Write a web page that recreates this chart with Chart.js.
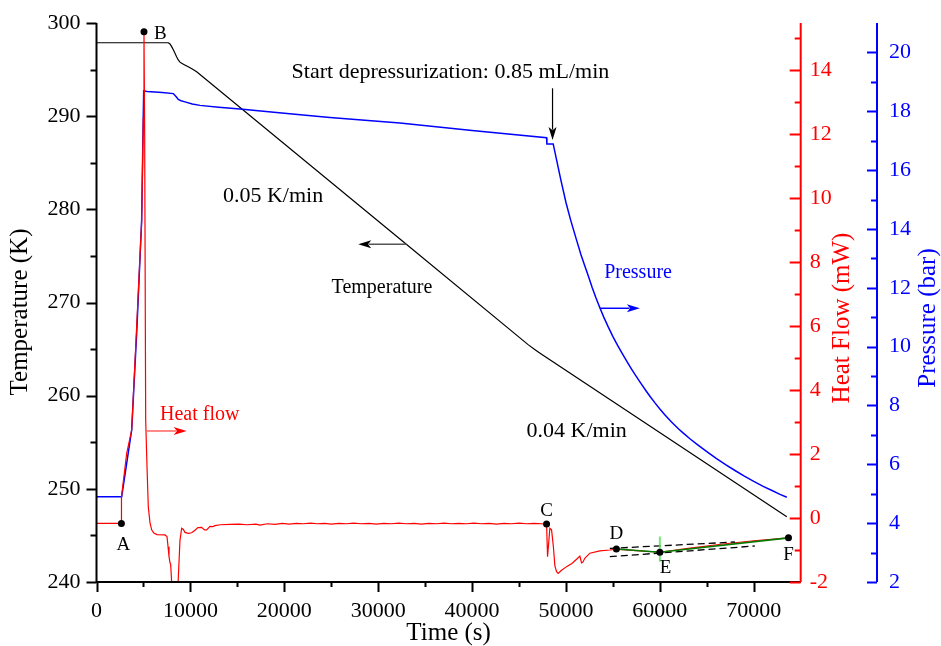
<!DOCTYPE html>
<html>
<head>
<meta charset="utf-8">
<title>Temperature, heat flow and pressure vs time</title>
<script src="https://cdn.jsdelivr.net/npm/chart.js@4.4.1/dist/chart.umd.min.js"></script>
<style>
    html, body { margin: 0; padding: 0; background: #fff; }
    #wrap { width: 941px; height: 646px; }
</style>
</head>
<body>
<div id="wrap"><canvas id="chart" width="941" height="646"></canvas></div>
<script>
(function () {
    'use strict';

    // temperature (K), left axis
    var tempTime = [0, 7645, 7830, 8005, 8180, 8358, 8530, 8710, 8890, 9071, 9400, 9774, 10200, 10668, 33030, 46000, 46600, 47200, 73520];
    var tempVal = [297.88, 297.88, 297.75, 297.46, 297.12, 296.75, 296.38, 296.03, 295.80, 295.67, 295.50, 295.31, 295.07, 294.77, 276.23, 265.45, 265.0, 264.58, 247.0];

    // pressure (bar), outer right axis
    var presTime = [0, 2683, 3748, 4300, 4810, 5025, 5400, 7000, 8177, 8465, 8710, 9000, 9423, 10200, 11020, 13000, 15280, 20000, 24860,
        32310, 40000, 47934, 47970, 48640, 49000, 49460, 50000, 50500, 51130, 51600, 52000, 52400, 52800, 53200, 53610, 54000, 54500, 55000,
        55500, 56000, 56500, 57000, 57500, 58000, 58500, 59000, 59500, 60000, 60500, 61240, 62000, 62500, 63200, 64000, 65000, 66000, 67000,
        68000, 69000, 70000, 71000, 72000, 72800, 73520];
    var presVal = [4.90, 4.90, 7.17, 10.6, 14.3, 18.69, 18.67, 18.64, 18.60, 18.50, 18.40, 18.36, 18.32, 18.25, 18.20, 18.14, 18.08, 17.93, 17.79,
        17.60, 17.35, 17.10, 16.89, 16.89, 16.35, 15.66, 14.9, 14.3, 13.62, 13.12, 12.75, 12.38, 12.0, 11.65, 11.32, 11.02, 10.67, 10.34,
        10.04, 9.76, 9.49, 9.23, 8.98, 8.74, 8.51, 8.29, 8.08, 7.88, 7.69, 7.44, 7.20, 7.06, 6.87, 6.67, 6.43, 6.20, 5.99,
        5.79, 5.60, 5.42, 5.25, 5.10, 4.98, 4.88];

    // heat flow (mW), inner right axis
    var heatTime = [0, 2650, 2660, 3215, 3748, 4280, 4810, 4980, 5058, 5130, 5238, 5380, 5515, 5700, 5877,
        6100, 6442, 7295, 7508, 7620, 7721, 7827, 7900, 8040, 8250, 8466, 8650, 8710, 8890, 9071, 9250,
        9423, 9774, 10136, 10488, 10800, 11201, 11500, 11733, 12085, 12400, 12617, 13200, 14215, 15200,
        16000, 17000, 17400, 18200, 19000, 19800, 20500, 21300, 22000, 22800, 23500, 24300, 25000, 25800,
        26600, 27400, 28200, 29000, 29800, 30600, 31400, 32200, 33000, 33800, 34600, 35400, 36200, 37000,
        37800, 38600, 39400, 40200, 41000, 41800, 42600, 43400, 44200, 45000, 45800, 46600, 47400, 47934,
        48040, 48285, 48466, 48660, 48820, 49000, 49170, 49460, 50063, 50630, 51130, 51480, 51660, 51800,
        52010, 52545, 53610, 54670, 55370, 57500, 60000, 63000, 66500, 70000, 73700];
    var heatVal = [-0.17, -0.17, 0.66, 2.02, 2.75, 6.0, 9.28, 12.5, 15.15, 12.0, 3.06, 1.6, 0.35, -0.15, -0.37,
        -0.47, -0.52, -0.53, -0.58, -0.9, -1.2, -1.4, -1.45, -2.2, -3.0, -3.0, -2.3, -1.9, -0.7, -0.32, -0.36,
        -0.45, -0.48, -0.46, -0.38, -0.3, -0.29, -0.37, -0.37, -0.26, -0.27, -0.24, -0.21, -0.2, -0.19,
        -0.21, -0.19, -0.22, -0.18, -0.2, -0.17, -0.19, -0.17, -0.18, -0.16, -0.18, -0.17, -0.19, -0.17,
        -0.18, -0.16, -0.18, -0.17, -0.19, -0.17, -0.18, -0.16, -0.18, -0.17, -0.19, -0.17, -0.18, -0.16,
        -0.18, -0.17, -0.18, -0.16, -0.18, -0.17, -0.19, -0.17, -0.18, -0.16, -0.18, -0.17, -0.18, -0.19,
        -1.21, -0.32, -0.37, -0.9, -1.5, -1.68, -1.73, -1.65, -1.52, -1.42, -1.29, -1.19, -1.4, -1.38,
        -1.26, -1.1, -1.03, -1.0, -0.97, -1.02, -1.07, -0.95, -0.82, -0.71, -0.62];

    // marked points A-F (on heat flow axis)
    var markNames = ['A', 'B', 'C', 'D', 'E', 'F'];
    var markTime = [2650, 5058, 47934, 55370, 60000, 73700];
    var markVal = [-0.17, 15.2, -0.19, -0.97, -1.07, -0.62];

    // D-E-F baseline construction
    var fitTime = [55370, 60000, 73700];
    var fitVal = [-0.97, -1.07, -0.62];
    var dashUpperTime = [54670, 67990];
    var dashUpperVal = [-0.95, -0.75];
    var dashLowerTime = [54670, 70110];
    var dashLowerVal = [-1.21, -0.875];
    var eMarkTime = [60000, 60000];
    var eMarkVal = [-0.58, -1.37];

    // axis ticks
    var timeTicks = [0, 10000, 20000, 30000, 40000, 50000, 60000, 70000];
    var tempTicks = [240, 250, 260, 270, 280, 290, 300];
    var heatTicks = [-2, 0, 2, 4, 6, 8, 10, 12, 14];
    var presTicks = [2, 4, 6, 8, 10, 12, 14, 16, 18, 20];

    var SERIF = '"Liberation Serif", "Times New Roman", serif';
    var RED = '#ff0000';
    var BLUE = '#0000ff';

    function pts(xs, ys) {
        var out = [];
        for (var i = 0; i < xs.length; i++) {
            out.push({ x: xs[i], y: ys[i] });
        }
        return out;
    }

    function arrow(ctx, x1, y1, x2, y2, shaft, head, width) {
        var ang = Math.atan2(y2 - y1, x2 - x1);
        var len = 13;
        var half = 4;
        ctx.save();
        ctx.strokeStyle = shaft;
        ctx.lineWidth = width;
        ctx.beginPath();
        ctx.moveTo(x1, y1);
        ctx.lineTo(x2 - Math.cos(ang) * len * 0.8, y2 - Math.sin(ang) * len * 0.8);
        ctx.stroke();
        ctx.fillStyle = head;
        ctx.beginPath();
        ctx.moveTo(x2, y2);
        ctx.lineTo(x2 - Math.cos(ang) * len - Math.sin(ang) * half, y2 - Math.sin(ang) * len + Math.cos(ang) * half);
        ctx.lineTo(x2 - Math.cos(ang) * len * 0.75, y2 - Math.sin(ang) * len * 0.75);
        ctx.lineTo(x2 - Math.cos(ang) * len + Math.sin(ang) * half, y2 - Math.sin(ang) * len - Math.cos(ang) * half);
        ctx.closePath();
        ctx.fill();
        ctx.restore();
    }

    function text(ctx, str, x, y, size, color, align) {
        ctx.font = size + 'px ' + SERIF;
        ctx.fillStyle = color;
        ctx.textAlign = align || 'left';
        ctx.textBaseline = 'alphabetic';
        ctx.fillText(str, x, y);
    }

    function vtitle(ctx, str, x, y, size, color) {
        ctx.save();
        ctx.translate(x, y);
        ctx.rotate(-Math.PI / 2);
        ctx.font = size + 'px ' + SERIF;
        ctx.fillStyle = color;
        ctx.textAlign = 'center';
        ctx.textBaseline = 'middle';
        ctx.fillText(str, 0, 0);
        ctx.restore();
    }

    function yTicks(ctx, scale, x, from, to, step, len, color) {
        ctx.strokeStyle = color;
        ctx.lineWidth = 2;
        ctx.beginPath();
        for (var v = from; v <= to + 1e-9; v += step) {
            var y = Math.round(scale.getPixelForValue(v)) + 0.5;
            ctx.moveTo(x, y);
            ctx.lineTo(x - len, y);
        }
        ctx.stroke();
    }

    var overlay = {
        id: 'overlay',
        afterDraw: function (chart) {
            var ctx = chart.ctx;
            var area = chart.chartArea;
            var sx = chart.scales.x;
            var sT = chart.scales.y;
            var sH = chart.scales.yHF;
            var sP = chart.scales.yP;
            var i;

            ctx.save();

            // axis lines
            ctx.lineWidth = 2;
            ctx.strokeStyle = '#000';
            ctx.beginPath();
            ctx.moveTo(area.left, area.top);
            ctx.lineTo(area.left, area.bottom);
            ctx.lineTo(area.right, area.bottom);
            ctx.stroke();
            ctx.strokeStyle = RED;
            ctx.beginPath();
            ctx.moveTo(area.right, area.top);
            ctx.lineTo(area.right, area.bottom);
            ctx.stroke();
            ctx.strokeStyle = BLUE;
            ctx.beginPath();
            ctx.moveTo(sP.left, area.top);
            ctx.lineTo(sP.left, area.bottom);
            ctx.stroke();

            // tick marks
            yTicks(ctx, sT, area.left, 240, 300, 10, 10, '#000');
            yTicks(ctx, sT, area.left, 245, 295, 10, 6, '#000');
            yTicks(ctx, sH, area.right, -2, 14, 2, 11, RED);
            yTicks(ctx, sH, area.right, -1, 15, 2, 6, RED);
            yTicks(ctx, sP, sP.left, 2, 20, 2, 10, BLUE);
            yTicks(ctx, sP, sP.left, 3, 19, 2, 6, BLUE);
            ctx.strokeStyle = '#000';
            ctx.beginPath();
            for (i = 0; i <= 70000; i += 5000) {
                var px = Math.round(sx.getPixelForValue(i)) + 0.5;
                ctx.moveTo(px, area.bottom);
                ctx.lineTo(px, area.bottom + (i % 10000 === 0 ? 10 : 5));
            }
            ctx.stroke();

            // axis titles
            vtitle(ctx, 'Temperature (K)', 20, 312, 25, '#000');
            vtitle(ctx, 'Heat Flow (mW)', 842, 318, 25, RED);
            vtitle(ctx, 'Pressure (bar)', 928, 318, 25, BLUE);
            ctx.font = '25px ' + SERIF;
            ctx.fillStyle = '#000';
            ctx.textAlign = 'center';
            ctx.textBaseline = 'middle';
            ctx.fillText('Time (s)', (area.left + area.right) / 2, 633);

            // annotations (anchored in time / temperature units)
            var X = function (t) { return sx.getPixelForValue(t); };
            var Y = function (k) { return sT.getPixelForValue(k); };
            text(ctx, 'Start depressurization: 0.85 mL/min', X(20780), Y(294.10), 22, '#000');
            arrow(ctx, X(48570), Y(292.99), X(48570), Y(287.44), '#000', '#000', 1.2);
            text(ctx, '0.05 K/min', X(13470), Y(280.82), 22, '#000');
            text(ctx, 'Temperature', X(25040), Y(270.99), 20, '#000');
            arrow(ctx, X(33030), Y(276.25), X(27875), Y(276.25), '#555', '#000', 1.5);
            text(ctx, 'Pressure', X(54070), Y(272.60), 20, BLUE);
            arrow(ctx, X(53610), Y(269.38), X(57870), Y(269.38), BLUE, BLUE, 1.5);
            text(ctx, 'Heat flow', X(6760), Y(257.39), 20, RED);
            arrow(ctx, X(5345), Y(256.21), X(9604), Y(256.21), '#ff6060', RED, 1.5);
            text(ctx, '0.04 K/min', X(45800), Y(255.56), 22, '#000');

            // point letters
            var offs = [[2, 27, 'center'], [10, 7, 'left'], [0, -8, 'center'], [0, -10, 'center'], [0, 21, 'left'], [0, 22, 'center']];
            for (i = 0; i < markNames.length; i++) {
                text(ctx, markNames[i], sx.getPixelForValue(markTime[i]) + offs[i][0],
                    sH.getPixelForValue(markVal[i]) + offs[i][1], 19, '#000', offs[i][2]);
            }

            ctx.restore();
        }
    };

    function tickFont() {
        return { family: SERIF, size: 22 };
    }

    function listTicks(list) {
        return function (scale) {
            scale.ticks = list.map(function (v) { return { value: v }; });
        };
    }

    // fixed box sizes so the plot area lands where the original has it
    function fixSize(w, h) {
        return function (s) {
            if (w) { s.width = w; }
            if (h) { s.height = h; }
            s.paddingTop = 0;
            s.paddingBottom = 0;
            s.paddingLeft = 0;
            s.paddingRight = 0;
        };
    }

    function plain(v) {
        return String(v);
    }

    new Chart(document.getElementById('chart'), {
        type: 'line',
        data: {
            datasets: [{
                label: 'Marked points',
                data: pts(markTime, markVal),
                yAxisID: 'yHF',
                showLine: false,
                pointRadius: 3.5,
                pointBackgroundColor: '#000',
                pointBorderWidth: 0,
                order: 0
            }, {
                label: 'E marker',
                data: pts(eMarkTime, eMarkVal),
                yAxisID: 'yHF',
                borderColor: 'rgba(80, 230, 80, 0.8)',
                borderWidth: 2,
                pointRadius: 0,
                order: 1
            }, {
                label: 'Baseline fit',
                data: pts(fitTime, fitVal),
                yAxisID: 'yHF',
                borderColor: '#007a00',
                borderWidth: 1.6,
                pointRadius: 0,
                order: 2
            }, {
                label: 'Upper tangent',
                data: pts(dashUpperTime, dashUpperVal),
                yAxisID: 'yHF',
                borderColor: '#000',
                borderWidth: 1.3,
                borderDash: [7, 4],
                pointRadius: 0,
                order: 3
            }, {
                label: 'Lower tangent',
                data: pts(dashLowerTime, dashLowerVal),
                yAxisID: 'yHF',
                borderColor: '#000',
                borderWidth: 1.3,
                borderDash: [7, 4],
                pointRadius: 0,
                order: 3
            }, {
                label: 'Heat flow',
                data: pts(heatTime, heatVal),
                yAxisID: 'yHF',
                borderColor: RED,
                borderWidth: 1.2,
                pointRadius: 0,
                tension: 0,
                order: 4
            }, {
                label: 'Pressure',
                data: pts(presTime, presVal),
                yAxisID: 'yP',
                borderColor: BLUE,
                borderWidth: 1.5,
                pointRadius: 0,
                tension: 0,
                order: 5
            }, {
                label: 'Temperature',
                data: pts(tempTime, tempVal),
                yAxisID: 'y',
                borderColor: '#000',
                borderWidth: 1.2,
                pointRadius: 0,
                tension: 0,
                order: 6
            }]
        },
        options: {
            responsive: false,
            animation: false,
            devicePixelRatio: 1,
            layout: { padding: { top: 23, left: 0, right: 0, bottom: 0 } },
            plugins: {
                legend: { display: false },
                tooltip: { enabled: false }
            },
            scales: {
                x: {
                    type: 'linear',
                    position: 'bottom',
                    min: 0,
                    max: 75000,
                    afterBuildTicks: listTicks(timeTicks),
                    ticks: { font: tickFont(), color: '#000', padding: 16, maxRotation: 0, autoSkip: false, callback: plain },
                    grid: { display: false, drawTicks: false },
                    border: { display: false },
                    afterFit: fixSize(0, 64)
                },
                y: {
                    position: 'left',
                    min: 240,
                    max: 300,
                    afterBuildTicks: listTicks(tempTicks),
                    ticks: { font: tickFont(), color: '#000', padding: 16, callback: plain },
                    grid: { display: false, drawTicks: false },
                    border: { display: false },
                    afterFit: fixSize(96.5, 0)
                },
                yHF: {
                    position: 'right',
                    weight: 1,
                    min: -2,
                    max: 15.47,
                    afterBuildTicks: listTicks(heatTicks),
                    ticks: { font: tickFont(), color: RED, padding: 9, callback: plain },
                    grid: { display: false, drawTicks: false },
                    border: { display: false },
                    afterFit: fixSize(76.3, 0)
                },
                yP: {
                    position: 'right',
                    weight: 2,
                    min: 2,
                    max: 21,
                    afterBuildTicks: listTicks(presTicks),
                    ticks: { font: tickFont(), color: BLUE, padding: 12, callback: plain },
                    grid: { display: false, drawTicks: false },
                    border: { display: false },
                    afterFit: fixSize(64, 0)
                }
            }
        },
        plugins: [overlay]
    });
})();
</script>
</body>
</html>
